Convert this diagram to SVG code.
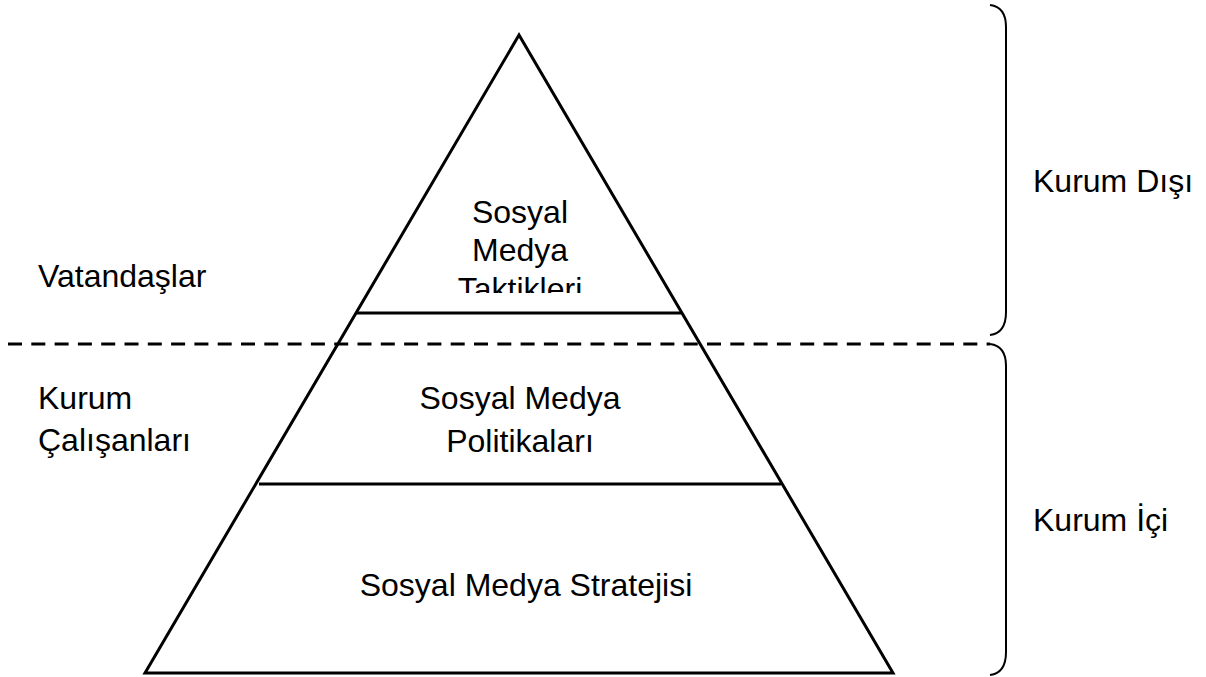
<svg xmlns="http://www.w3.org/2000/svg" width="1206" height="677" viewBox="0 0 1206 677">
  <style>
    .ln { fill: none; stroke: #000; stroke-width: 3; }
    .br { fill: none; stroke: #000; stroke-width: 2; }
    .tx { font-family: "Liberation Sans", Arial, sans-serif; font-size: 32px; fill: #000; }
    .mid { text-anchor: middle; }
  </style>
  <defs>
    <clipPath id="tipClip">
      <rect x="380" y="180" width="280" height="113"/>
    </clipPath>
  </defs>
  <rect width="1206" height="677" fill="#fff"/>

  <!-- pyramid outline and tier dividers -->
  <g id="pyramid">
    <polygon class="ln" points="519,35 145,673 893,673"/>
    <line class="ln" x1="357" y1="313" x2="681" y2="313"/>
    <line class="ln" x1="259" y1="484" x2="781" y2="484"/>
  </g>

  <g id="tier-tactics">
    <g clip-path="url(#tipClip)">
      <text class="tx mid" x="520" y="223">Sosyal</text>
      <text class="tx mid" x="520" y="261">Medya</text>
      <text class="tx mid" x="520" y="300">Taktikleri</text>
    </g>
  </g>
  <g id="tier-policies">
    <text class="tx mid" x="520" y="409">Sosyal Medya</text>
    <text class="tx mid" x="520" y="452">Politikaları</text>
  </g>
  <g id="tier-strategy">
    <text class="tx mid" x="526" y="596">Sosyal Medya Stratejisi</text>
  </g>

  <!-- boundary between inside and outside the institution -->
  <g id="connectors">
    <line class="ln" x1="8" y1="344" x2="990" y2="344" stroke-dasharray="14,9.3"/>
    <path class="br" d="M990,5 Q1006,7 1006,27 L1006,312 Q1006,333 990,335"/>
    <path class="br" d="M990,344 Q1006,346 1006,366 L1006,652 Q1006,673 990,675"/>
  </g>

  <g id="label-citizens">
    <text class="tx" x="38" y="287">Vatandaşlar</text>
  </g>
  <g id="label-staff">
    <text class="tx" x="38" y="409">Kurum</text>
    <text class="tx" x="38" y="451">Çalışanları</text>
  </g>
  <g id="label-outside">
    <text class="tx" x="1033" y="192">Kurum Dışı</text>
  </g>
  <g id="label-inside">
    <text class="tx" x="1033" y="531">Kurum İçi</text>
  </g>
</svg>
